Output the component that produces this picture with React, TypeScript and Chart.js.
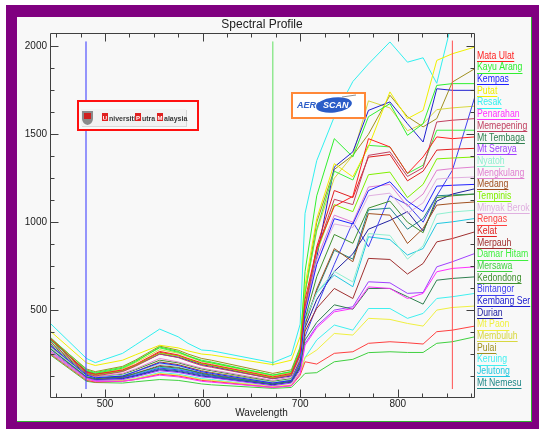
import { useEffect, useRef } from "react";
import { Chart, registerables } from "chart.js";

Chart.register(...registerables);

// Band centres (nm)
const wavelengths = [444, 481, 490, 518, 531, 556, 575, 585, 599, 609, 672, 691, 700, 705, 717, 735, 754, 770, 792, 810, 826, 840, 856, 879];

const seriesNames = [
  "Mata Ulat", "Kayu Arang", "Kempas", "Putat", "Resak", "Penarahan", "Memepening", "Mt Tembaga",
  "Mt Seraya", "Nyatoh", "Mengkulang", "Medang", "Tempinis", "Minyak Berok", "Rengas", "Kelat",
  "Merpauh", "Damar Hitam", "Mersawa", "Kedondong", "Bintangor", "Kembang Ser", "Durian", "Mt Paon",
  "Membuluh", "Pulai", "Keruing", "Jelutong", "Mt Nemesu",
];

const seriesColors = [
  "#ff2020", "#30f030", "#2020ff", "#f0f000", "#30f0f0", "#ff30ff", "#c04060", "#308050",
  "#a040ff", "#90f0d0", "#e080d0", "#a05020", "#80f000", "#e0b0e0", "#ff4040", "#e02020",
  "#a03030", "#40f040", "#40d040", "#409030", "#4040f0", "#2020d0", "#2020a0", "#f0f040",
  "#d8d840", "#a09020", "#40f0f0", "#20c8e0", "#208888",
];

const mataUlat = [340, 150, 135, 160, 190, 265, 245, 225, 200, 190, 120, 140, 260, 560, 850, 1090, 1147, 1475, 1428, 1277, 1371, 1485, 1475, 1485];
const kayuArang = [330, 155, 140, 170, 205, 290, 265, 240, 210, 200, 130, 150, 280, 720, 1150, 1475, 1371, 1600, 1674, 1494, 1560, 1778, 1788, 1788];
const kempas = [300, 130, 115, 125, 150, 200, 185, 170, 150, 140, 85, 100, 200, 480, 760, 1020, 990, 1180, 1230, 1120, 1060, 1205, 1210, 1215];
const putat = [380, 200, 185, 215, 245, 300, 285, 268, 250, 245, 190, 215, 350, 640, 1020, 1333, 1258, 1428, 1741, 1589, 1636, 1920, 1958, 1996];
const resak = [424, 225, 201, 254, 301, 392, 348, 311, 273, 269, 201, 244, 420, 1050, 1350, 1600, 1800, 1900, 2025, 1910, 1935, 1790, 2150, 2250];
const penarahan = [260, 110, 95, 95, 105, 130, 120, 110, 95, 90, 60, 70, 140, 300, 400, 490, 509, 632, 623, 566, 595, 718, 737, 746];
const memepening = [320, 140, 125, 150, 180, 250, 230, 210, 185, 175, 110, 130, 250, 520, 840, 1130, 1100, 1380, 1400, 1260, 1310, 1570, 1580, 1589];
const mtTembaga = [280, 120, 110, 120, 140, 180, 170, 160, 140, 130, 80, 95, 180, 330, 430, 530, 505, 623, 623, 576, 534, 670, 680, 689];
const mtSeraya = [270, 115, 100, 105, 120, 155, 145, 135, 120, 115, 70, 85, 160, 310, 410, 500, 519, 661, 655, 595, 600, 746, 775, 822];
const nyatoh = [290, 125, 115, 130, 150, 195, 180, 165, 150, 140, 90, 105, 200, 440, 600, 720, 660, 935, 925, 790, 865, 1045, 1058, 1068];
const mengkulang = [300, 130, 120, 140, 165, 225, 205, 190, 170, 160, 100, 120, 230, 500, 790, 1040, 1000, 1200, 1215, 1090, 1160, 1295, 1305, 1314];
const medang = [295, 125, 110, 125, 150, 205, 190, 175, 155, 145, 90, 105, 210, 420, 620, 850, 775, 1049, 1040, 879, 964, 1097, 1106, 1115];
const tempinis = [320, 140, 130, 155, 185, 255, 240, 220, 195, 185, 115, 135, 250, 530, 830, 1100, 1060, 1270, 1285, 1140, 1215, 1360, 1365, 1371];
const minyakBerok = [285, 125, 110, 125, 145, 190, 180, 165, 150, 140, 85, 100, 200, 490, 770, 990, 970, 1150, 1165, 1050, 1110, 1245, 1252, 1257];
const rengas = [250, 100, 90, 95, 105, 135, 125, 115, 100, 95, 60, 70, 130, 206, 193, 254, 263, 311, 320, 314, 307, 377, 386, 409];
const kelat = [335, 145, 130, 155, 185, 260, 240, 220, 195, 185, 115, 135, 255, 510, 860, 1180, 1140, 1370, 1385, 1235, 1290, 1410, 1415, 1420];
const merpauh = [290, 120, 110, 120, 140, 185, 175, 160, 145, 135, 85, 100, 190, 380, 510, 623, 566, 794, 788, 705, 765, 888, 907, 945];
const damarHitam = [345, 160, 145, 175, 210, 285, 260, 240, 215, 205, 130, 150, 280, 600, 960, 1290, 1240, 1437, 1428, 1277, 1324, 1523, 1523, 1523];
const mersawa = [245, 95, 88, 85, 92, 105, 100, 92, 80, 75, 55, 60, 110, 140, 144, 206, 220, 258, 263, 259, 259, 311, 320, 348];
const kedondong = [310, 135, 120, 135, 160, 215, 200, 185, 165, 155, 95, 110, 220, 450, 690, 930, 880, 1080, 1120, 1000, 940, 1140, 1150, 1160];
const bintangor = [290, 120, 108, 115, 130, 170, 160, 150, 135, 125, 80, 95, 180, 350, 520, 760, 1000, 860, 1150, 1100, 1000, 1150, 1295, 1712];
const kembangSer = [330, 150, 135, 155, 185, 250, 232, 215, 190, 180, 110, 125, 240, 500, 800, 1314, 1400, 1636, 1684, 1560, 1456, 1759, 1750, 1750];
const durian = [300, 118, 105, 110, 125, 160, 150, 140, 125, 118, 75, 90, 170, 400, 560, 720, 820, 960, 1010, 1060, 950, 1120, 1160, 1190];
const mtPaon = [265, 108, 95, 100, 110, 140, 130, 120, 105, 100, 65, 75, 145, 230, 273, 367, 358, 453, 447, 424, 409, 500, 515, 523];
const membuluh = [335, 150, 138, 165, 200, 275, 255, 235, 208, 198, 125, 145, 270, 600, 950, 1250, 1380, 1690, 1650, 1520, 1560, 1640, 1650, 1660];
const pulai = [340, 165, 150, 180, 215, 295, 272, 250, 225, 215, 140, 160, 290, 600, 1000, 1300, 1380, 1500, 1722, 1600, 1542, 1589, 1797, 1873];
const keruing = [255, 105, 92, 98, 110, 145, 135, 125, 110, 105, 62, 72, 140, 230, 330, 415, 386, 509, 509, 453, 481, 566, 576, 595];
const jelutong = [285, 118, 108, 118, 135, 175, 165, 155, 138, 130, 80, 95, 185, 450, 600, 699, 633, 917, 901, 813, 850, 992, 1002, 1021];
const mtNemesu = [280, 115, 105, 112, 128, 165, 155, 145, 130, 122, 78, 92, 175, 420, 610, 840, 790, 1070, 1080, 960, 1020, 1150, 1155, 1160];

const seriesValues = [
  mataUlat, kayuArang, kempas, putat, resak, penarahan, memepening, mtTembaga,
  mtSeraya, nyatoh, mengkulang, medang, tempinis, minyakBerok, rengas, kelat,
  merpauh, damarHitam, mersawa, kedondong, bintangor, kembangSer, durian, mtPaon,
  membuluh, pulai, keruing, jelutong, mtNemesu,
];

// Vertical band markers
const markerWavelengths = [480.5, 672, 856];
const markerTop = [2028, 2028, 2033];
const markerBottom = [51, 185, 51];
const markerColors = ["#3030ff", "#60e060", "#ff5050"];

// Axis ticks
const xTickLabels = [500, 600, 700, 800];
const yTickLabels = [500, 1000, 1500, 2000];
const xMinorStep = 25;
const yMinorStep = 125;

const W = 539;
const H = 429;
const FONT = '"Liberation Sans", Arial, sans-serif';

function drawUPM(ctx: CanvasRenderingContext2D) {
  ctx.save();
  ctx.fillStyle = "#f8f8f8";
  ctx.fillRect(77, 100, 122, 31);
  ctx.strokeStyle = "#ff1010";
  ctx.lineWidth = 2;
  ctx.strokeRect(78, 101, 120, 29);
  // inner plate
  ctx.fillStyle = "#d8d8d8";
  ctx.fillRect(82, 110, 105, 17);
  ctx.fillStyle = "#f2f2f2";
  ctx.fillRect(81, 109, 105, 17);
  // shield
  ctx.fillStyle = "#8a8a8a";
  ctx.beginPath();
  ctx.moveTo(82, 111);
  ctx.lineTo(93, 111);
  ctx.lineTo(93, 119);
  ctx.quadraticCurveTo(92.5, 124, 87.5, 125);
  ctx.quadraticCurveTo(82.5, 124, 82, 119);
  ctx.closePath();
  ctx.fill();
  ctx.fillStyle = "#d02020";
  ctx.fillRect(84, 113, 7, 6);
  // text with boxed initials
  const parts: [string, string, number][] = [["U", "niversiti", 102], ["P", "utra", 135], ["M", "alaysia", 157]];
  ctx.textBaseline = "alphabetic";
  for (const [ini, rest, x] of parts) {
    ctx.fillStyle = "#e02020";
    ctx.fillRect(x, 113, 6, 8);
    ctx.fillStyle = "#ffffff";
    ctx.font = `bold 6px ${FONT}`;
    ctx.textAlign = "center";
    ctx.fillText(ini, x + 3, 120);
    ctx.fillStyle = "#383838";
    ctx.font = `bold 7px ${FONT}`;
    ctx.textAlign = "left";
    ctx.fillText(rest, x + 7, 120.5);
  }
  ctx.restore();
}

function drawAeroscan(ctx: CanvasRenderingContext2D) {
  ctx.save();
  ctx.fillStyle = "#ffffff";
  ctx.fillRect(291, 92, 75, 26);
  ctx.strokeStyle = "#ff8838";
  ctx.lineWidth = 2;
  ctx.strokeRect(292, 93, 73, 25);
  ctx.fillStyle = "#2a5cc8";
  ctx.beginPath();
  ctx.ellipse(334, 105, 18, 7.5, -0.12, 0, Math.PI * 2);
  ctx.fill();
  ctx.strokeStyle = "#909090";
  ctx.lineWidth = 1;
  ctx.beginPath();
  ctx.moveTo(342, 97);
  ctx.lineTo(356, 95);
  ctx.stroke();
  ctx.font = `italic bold 9px ${FONT}`;
  ctx.textBaseline = "middle";
  ctx.textAlign = "left";
  ctx.fillStyle = "#3060c8";
  ctx.fillText("AERO", 297, 105.5);
  const w = ctx.measureText("AERO").width;
  ctx.fillStyle = "#ffffff";
  ctx.fillText("SCAN", 297 + w, 105.5);
  ctx.restore();
}

const framePlugin = {
  id: "idlFrame",
  beforeDraw(chart: any) {
    const ctx: CanvasRenderingContext2D = chart.ctx;
    ctx.save();
    ctx.fillStyle = "#ffffff";
    ctx.fillRect(0, 0, W, H);
    ctx.fillStyle = "#800080";
    ctx.fillRect(6, 5, W - 6, H - 5);
    ctx.fillStyle = "#f8f8f8";
    ctx.fillRect(17, 17, 515, 405);
    ctx.fillStyle = "#30b030";
    ctx.fillRect(17, 421, 515, 1);
    ctx.fillRect(531, 17, 1, 405);
    ctx.restore();
  },
  afterDatasetsDraw(chart: any) {
    const ctx: CanvasRenderingContext2D = chart.ctx;
    drawUPM(ctx);
    drawAeroscan(ctx);
  },
  afterDraw(chart: any) {
    const ctx: CanvasRenderingContext2D = chart.ctx;
    const { left, right, top, bottom } = chart.chartArea;
    const xs = chart.scales.x;
    const ys = chart.scales.y;
    ctx.save();
    ctx.strokeStyle = "#404040";
    ctx.lineWidth = 1;
    const L = Math.round(left) + 0.5;
    const R = Math.round(right) - 0.5;
    const T = Math.round(top) + 0.5;
    const B = Math.round(bottom) - 0.5;
    ctx.beginPath();
    ctx.moveTo(L, T);
    ctx.lineTo(R, T);
    ctx.lineTo(R, B);
    ctx.lineTo(L, B);
    ctx.closePath();
    ctx.stroke();

    ctx.beginPath();
    for (let v = Math.ceil(xs.min / xMinorStep) * xMinorStep; v <= xs.max; v += xMinorStep) {
      const px = Math.round(xs.getPixelForValue(v)) + 0.5;
      const len = xTickLabels.includes(v) ? 8 : 4;
      ctx.moveTo(px, B);
      ctx.lineTo(px, B - len);
      ctx.moveTo(px, T);
      ctx.lineTo(px, T + len);
    }
    for (let v = yMinorStep; v <= ys.max; v += yMinorStep) {
      const py = Math.round(ys.getPixelForValue(v)) + 0.5;
      const len = yTickLabels.includes(v) ? 8 : 4;
      ctx.moveTo(L, py);
      ctx.lineTo(L + len, py);
      ctx.moveTo(R, py);
      ctx.lineTo(R - len, py);
    }
    ctx.stroke();

    ctx.fillStyle = "#202020";
    ctx.font = `10px ${FONT}`;
    ctx.textBaseline = "middle";
    ctx.textAlign = "center";
    for (const v of xTickLabels) {
      ctx.fillText(String(v), xs.getPixelForValue(v), 404);
    }
    ctx.textAlign = "right";
    for (const v of yTickLabels) {
      ctx.fillText(String(v), 47, ys.getPixelForValue(v));
    }
    ctx.textAlign = "center";
    ctx.fillText("Wavelength", 261.5, 413);
    ctx.font = `12px ${FONT}`;
    ctx.fillText("Spectral Profile", 262, 25);

    // legend
    ctx.save();
    ctx.beginPath();
    ctx.rect(476, 40, 55, 360);
    ctx.clip();
    ctx.font = `10px ${FONT}`;
    ctx.textAlign = "left";
    const sx = 0.87;
    seriesNames.forEach((name, i) => {
      const y = 56 + i * 11.68;
      ctx.fillStyle = seriesColors[i];
      ctx.save();
      ctx.translate(477, y);
      ctx.scale(sx, 1);
      ctx.fillText(name, 0, 0);
      ctx.restore();
      const w = ctx.measureText(name).width * sx;
      ctx.fillRect(477, Math.round(y + 5), w, 1);
    });
    ctx.restore();
    ctx.restore();
  },
};

export default function App() {
  const ref = useRef<HTMLCanvasElement | null>(null);
  useEffect(() => {
    if (!ref.current) return;
    const datasets: any[] = seriesValues.map((vals, i) => ({
      label: seriesNames[i],
      data: wavelengths.map((w, j) => ({ x: w, y: vals[j] })),
      borderColor: seriesColors[i],
      backgroundColor: seriesColors[i],
      borderWidth: 1,
      pointRadius: 0,
      tension: 0,
      fill: false,
      order: 1,
    }));
    markerWavelengths.forEach((w, i) => {
      datasets.push({
        label: "marker" + i,
        data: [
          { x: w, y: markerBottom[i] },
          { x: w, y: markerTop[i] },
        ],
        borderColor: markerColors[i],
        borderWidth: 1,
        pointRadius: 0,
        fill: false,
        order: 0,
      });
    });
    const chart = new Chart(ref.current, {
      type: "line",
      data: { datasets },
      options: {
        animation: false,
        responsive: false,
        devicePixelRatio: 1,
        events: [],
        layout: { padding: { left: 50, top: 33, right: W - 475, bottom: H - 398 } },
        plugins: {
          legend: { display: false },
          tooltip: { enabled: false },
          title: { display: false },
        },
        scales: {
          x: { type: "linear", min: 443.6, max: 879.2, display: false },
          y: { type: "linear", min: 0, max: 2076, display: false },
        },
      },
      plugins: [framePlugin],
    } as any);
    return () => chart.destroy();
  }, []);
  return (
    <div style={{ position: "absolute", left: 0, top: 0, width: W, height: H }}>
      <canvas ref={ref} width={W} height={H} style={{ display: "block", width: W, height: H }} />
    </div>
  );
}
